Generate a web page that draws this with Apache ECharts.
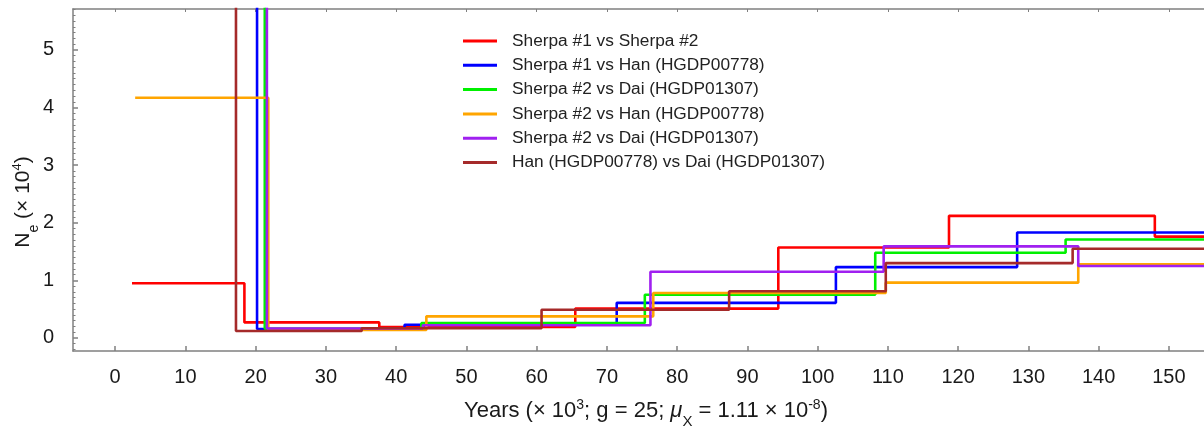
<!DOCTYPE html>
<html>
<head>
<meta charset="utf-8">
<script src="https://cdn.jsdelivr.net/npm/echarts@6/dist/echarts.min.js"></script>
<style>
html,body{margin:0;padding:0;background:#fff;}
#chart{width:1204px;height:428px;}
</style>
</head>
<body>
<div id="chart"></div>
<script>
// ---- data (years x10^3, Ne x10^4), each pair = [start of step, value held from there] ----
const seriesNames = [
  'Sherpa #1 vs Sherpa #2',
  'Sherpa #1 vs Han (HGDP00778)',
  'Sherpa #2 vs Dai (HGDP01307)',
  'Sherpa #2 vs Han (HGDP00778)',
  'Sherpa #2 vs Dai (HGDP01307) ',
  'Han (HGDP00778) vs Dai (HGDP01307)'
];
const seriesColors = ['#ff0000', '#0000ff', '#00f000', '#ffa500', '#a020f0', '#a52a2a'];

const sherpa1VsSherpa2 = [[2.4, 0.95], [18.4, 0.27], [37.6, 0.19], [65.5, 0.51], [94.4, 1.57], [118.7, 2.12], [148.0, 1.76]];
const sherpa1VsHan     = [[2.4, 8.0], [20.2, 0.155], [41.2, 0.23], [71.4, 0.61], [102.6, 1.23], [128.4, 1.83]];
const sherpa2VsDai     = [[2.4, 8.0], [21.3, 0.16], [43.6, 0.26], [75.4, 0.75], [108.2, 1.48], [135.3, 1.71]];
const sherpa2VsHan     = [[2.85, 4.17], [21.8, 0.14], [44.3, 0.375], [76.6, 0.78], [109.7, 0.96], [137.1, 1.28]];
const sherpa2VsDai2    = [[2.4, 8.0], [21.6, 0.165], [43.8, 0.22], [76.2, 1.15], [109.4, 1.59], [137.1, 1.25]];
const hanVsDai         = [[2.4, 8.0], [17.2, 0.12], [35.1, 0.17], [60.7, 0.49], [87.4, 0.81], [109.7, 1.30], [136.3, 1.55]];
const lastYear = 160;

const xTickValues = [0, 10, 20, 30, 40, 50, 60, 70, 80, 90, 100, 110, 120, 130, 140, 150];
const yTickValues = [0, 1, 2, 3, 4, 5];
const xRange = [-6, 155];
const yRange = [-0.226, 5.71];

// ---- build ----
const allSteps = [sherpa1VsSherpa2, sherpa1VsHan, sherpa2VsDai, sherpa2VsHan, sherpa2VsDai2, hanVsDai];
function toStepData(steps) {
  const d = steps.map(p => [p[0], p[1]]);
  d.push([lastYear, steps[steps.length - 1][1]]);
  return d;
}
const yMinorTicks = [];
for (let i = -2; i <= 57; i++) { if (i % 10 !== 0) yMinorTicks.push(+(i / 10).toFixed(1)); }

const axisGray = '#808080';
const txt = '#1a1a1a';
const font = '"Liberation Sans", Arial, sans-serif';

const chart = echarts.init(document.getElementById('chart'), null, {renderer: 'canvas'});
chart.setOption({
  animation: false,
  backgroundColor: '#ffffff',
  grid: {left: 73, top: 9, right: 0, bottom: 77, containLabel: false},
  legend: {
    orient: 'vertical',
    left: 458, top: 26,
    itemWidth: 34, itemHeight: 3, itemGap: 4.3,
    icon: 'rect',
    textStyle: {fontFamily: font, fontSize: 17.3, color: '#222', lineHeight: 20, padding: [0, 0, 0, 10]},
    data: seriesNames
  },
  xAxis: [{
    type: 'value', min: xRange[0], max: xRange[1], position: 'bottom',
    axisLine: {show: true, onZero: false, lineStyle: {color: axisGray, width: 1.5}},
    axisTick: {show: true, inside: true, length: 5, customValues: xTickValues, lineStyle: {color: axisGray, width: 1.5}},
    axisLabel: {show: true, customValues: xTickValues, margin: 16, fontFamily: font, fontSize: 20, color: txt},
    splitLine: {show: false}
  }, {
    type: 'value', min: xRange[0], max: xRange[1], position: 'top',
    axisLine: {show: true, onZero: false, lineStyle: {color: axisGray, width: 1.5}},
    axisTick: {show: true, inside: true, length: 3, customValues: xTickValues, lineStyle: {color: axisGray, width: 1}},
    axisLabel: {show: false},
    splitLine: {show: false}
  }],
  yAxis: [{
    type: 'value', min: yRange[0], max: yRange[1], position: 'left',
    axisLine: {show: true, onZero: false, lineStyle: {color: axisGray, width: 1.5}},
    axisTick: {show: true, inside: true, length: 5, customValues: yTickValues, lineStyle: {color: axisGray, width: 1.5}},
    axisLabel: {show: true, customValues: yTickValues, margin: 19, fontFamily: font, fontSize: 20, color: txt},
    splitLine: {show: false}
  }, {
    type: 'value', min: yRange[0], max: yRange[1], position: 'left',
    axisLine: {show: false, onZero: false},
    axisTick: {show: true, inside: true, length: 2.5, customValues: yMinorTicks, lineStyle: {color: axisGray, width: 1}},
    axisLabel: {show: false},
    splitLine: {show: false}
  }],
  series: allSteps.map((steps, i) => ({
    name: seriesNames[i],
    type: 'line',
    step: 'end',
    xAxisIndex: 0, yAxisIndex: 0,
    data: toStepData(steps),
    showSymbol: false, symbol: 'none',
    clip: true,
    color: seriesColors[i],
    lineStyle: {color: seriesColors[i], width: 2.6},
    z: 2 + i
  })),
  graphic: [{
    type: 'text',
    x: 646, y: 411,
    style: {
      text: 'Years (× 10{sup|3}; g = 25; {it|μ}{sub|X} = 1.11 × 10{sup|-8})',
      fontFamily: font, fontSize: 22, fill: txt,
      align: 'center', verticalAlign: 'middle',
      rich: {
        sup: {fontFamily: font, fontSize: 14, fill: txt, verticalAlign: 'top', lineHeight: 25},
        sub: {fontFamily: font, fontSize: 15, fill: txt, verticalAlign: 'bottom', lineHeight: 25, padding: [0, 0, -6, 0]},
        it: {fontFamily: font, fontSize: 22, fontStyle: 'italic', fill: txt, lineHeight: 25}
      }
    }
  }, {
    type: 'text',
    x: 23, y: 202,
    rotation: Math.PI / 2,
    style: {
      text: 'N{sub|e} (× 10{sup|4})',
      fontFamily: font, fontSize: 21, fill: txt,
      align: 'center', verticalAlign: 'middle',
      rich: {
        sup: {fontFamily: font, fontSize: 13, fill: txt, verticalAlign: 'top', lineHeight: 24},
        sub: {fontFamily: font, fontSize: 14, fill: txt, verticalAlign: 'bottom', lineHeight: 24, padding: [0, 0, -6, 0]}
      }
    }
  }]
});
</script>
</body>
</html>
